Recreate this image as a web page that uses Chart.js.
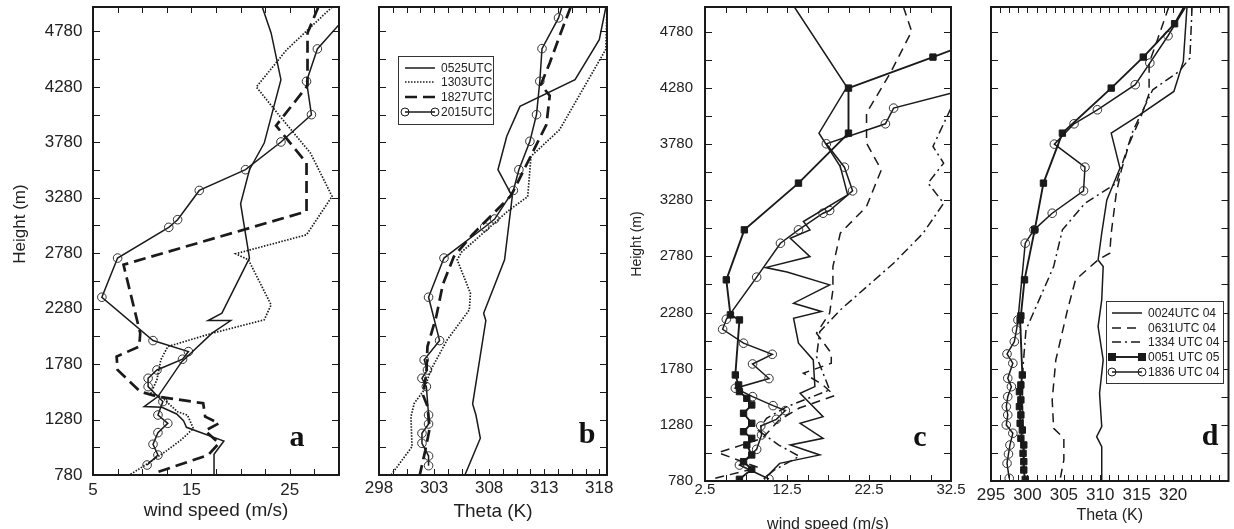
<!DOCTYPE html>
<html>
<head>
<meta charset="utf-8">
<script src="https://cdn.jsdelivr.net/npm/chart.js@4.4.0/dist/chart.umd.min.js"></script>
<style>
  html, body { margin: 0; padding: 0; background: #fff; width: 1234px; height: 529px; overflow: hidden; }
  canvas { position: absolute; top: 0; }
</style>
</head>
<body>
<canvas id="panelA" width="345" height="545" style="left:0"></canvas>
<canvas id="panelB" width="272" height="545" style="left:345px"></canvas>
<canvas id="panelC" width="360" height="545" style="left:613px"></canvas>
<canvas id="panelD" width="276" height="545" style="left:958px"></canvas>
<script>
// profiles: [value, height (m)]

// panel a - wind speed (m/s)
const aWind0525 = [[22.2,5000],[23.1,4766],[24.1,4345],[22.4,3773],[20.9,3533],[20.0,3226],[20.9,2736],[18.1,2239],[16.7,2173],[19.0,2173],[17.1,2059],[14.0,1800],[11.6,1487],[10.2,1397],[12.0,1390],[13.5,1330],[14.2,1270],[14.5,1210],[18.3,1086],[17.3,967],[17.3,780]];
const aWind1303 = [[29.3,5000],[24.7,4616],[21.6,4279],[24.0,4014],[27.1,3683],[29.3,3292],[26.7,2946],[19.5,2775],[20.8,2720],[23.1,2314],[22.4,2179],[17.1,2058],[12.6,1938],[11.9,1820],[11.5,1640],[10.9,1520],[12.0,1480],[13.6,1350],[14.6,1320],[15.2,1200],[14.0,1100],[12.5,1000],[10.5,880],[8.7,780]];
const aWind1827 = [[27.9,5000],[26.8,4766],[26.8,4291],[23.6,3930],[26.7,3593],[26.7,3157],[8.1,2676],[9.8,2058],[9.7,1938],[7.4,1848],[7.5,1727],[9.8,1532],[11.6,1487],[16.2,1427],[16.4,1306],[17.8,1246],[16.4,1180],[17.8,1066],[16.7,960],[11.2,795]];
const aWind2015 = [[30.0,4840],[27.8,4622],[26.7,4330],[27.2,4029],[24.1,3783],[20.5,3533],[15.8,3346],[13.6,3082],[12.7,3013],[7.5,2736],[5.9,2383],[11.1,1992],[14.7,1893],[14.1,1824],[11.5,1727],[10.6,1652],[10.6,1577],[12.1,1442],[11.6,1321],[12.6,1246],[11.6,1162],[11.1,1057],[11.6,960],[10.5,870]];

// panel b - theta (K)
const bTheta0525 = [[318.6,5000],[318.0,4706],[315.8,4345],[310.8,4104],[309.6,3834],[308.8,3533],[310.1,3292],[309.4,2720],[307.5,2239],[307.7,2173],[306.5,1420],[306.8,1321],[307.2,1111],[305.8,780]];
const bTheta1303 = [[318.7,5000],[318.6,4620],[314.4,3894],[311.8,3653],[311.5,3290],[309.7,3160],[305.5,2790],[305.1,2720],[306.3,2419],[306.2,2269],[304.2,2000],[302.7,1727],[302.1,1547],[301.2,1427],[300.9,1306],[301.0,1036],[299.1,780]];
const bTheta1827 = [[315.4,5000],[314.5,4766],[313.5,4495],[312.7,4300],[313.5,4200],[313.2,3940],[312.0,3700],[310.0,3300],[306.5,2950],[304.8,2750],[303.8,2500],[303.2,2209],[302.4,1938],[302.3,1700],[302.0,1500],[302.4,1400],[302.6,1200],[302.2,1000],[301.7,780]];
const bTheta2015 = [[314.6,5000],[314.3,4902],[312.8,4625],[312.6,4330],[312.3,4029],[311.7,3789],[310.7,3533],[310.2,3346],[308.5,3088],[307.6,3016],[303.9,2736],[302.5,2383],[303.5,1992],[302.1,1818],[302.4,1727],[301.9,1652],[302.3,1577],[302.5,1321],[302.5,1240],[301.9,1156],[301.9,1066],[302.5,951],[302.5,864]];

// panel c - wind speed (m/s)
const cWind0024 = [[13.4,5000],[19.8,4287],[16.4,3877],[19.0,3580],[19.9,3328],[14.5,3090],[15.3,3016],[12.9,2941],[15.3,2778],[9.9,2680],[12.5,2640],[17.7,2526],[13.3,2363],[16.7,2289],[13.3,2229],[13.9,2007],[15.7,1858],[15.9,1620],[14.1,1561],[16.9,1353],[14.1,1294],[16.9,1160],[12.9,1101],[16.5,1012],[11.6,937],[10.0,818]];
const cWind0631 = [[26.7,5000],[27.7,4783],[25.1,4412],[22.2,4055],[22.2,3788],[24.0,3550],[22.2,3224],[19.0,2986],[18.1,2689],[18.1,2482],[17.7,2274],[16.1,2096],[17.9,1917],[17.9,1828],[14.5,1740],[16.8,1640],[18.3,1540],[14.0,1430],[11.5,1320],[9.5,1160],[4.1,1032],[9.0,900],[3.5,800]];
const cWind1334 = [[32.5,4100],[30.3,3758],[31.6,3610],[29.7,3432],[31.6,3253],[29.1,2986],[25.5,2719],[19.0,2303],[16.5,2110],[16.1,1888],[17.7,1591],[12.5,1442],[10.0,1338],[9.0,1230],[11.5,1100],[14.0,1000],[11.0,880],[9.5,790]];
const cWind0051 = [[32.5,4614],[30.3,4554],[20.0,4278],[20.0,3877],[13.9,3432],[7.3,3016],[5.1,2571],[5.6,2259],[6.7,2214],[6.2,1724],[6.6,1635],[6.7,1576],[7.6,1516],[8.2,1457],[7.2,1383],[8.2,1294],[7.2,1219],[8.2,1160],[7.6,1101],[8.2,1012],[7.2,952],[8.2,884],[6.7,795]];
const cWind1836 = [[32.5,4233],[25.5,4100],[24.5,3960],[17.3,3782],[19.5,3574],[20.5,3363],[17.7,3188],[16.9,3164],[13.9,3016],[11.7,2897],[8.8,2595],[5.1,2220],[4.65,2131],[7.2,2007],[10.7,1908],[8.3,1822],[10.3,1692],[6.2,1606],[8.3,1531],[10.8,1451],[12.3,1407],[11.2,1329],[9.3,1270],[9.4,1190],[8.8,1062],[6.7,922],[10.3,798]];

// panel d - theta (K)
const dTheta0024 = [[321.9,5000],[321.4,4516],[320.1,4248],[315.4,4040],[311.5,3877],[312.7,3565],[310.9,3283],[310.2,2986],[309.7,2748],[310.4,2690],[310.2,2393],[309.7,2155],[310.4,1858],[309.9,1561],[310.2,1264],[309.5,1175],[310.2,1086],[310.2,789]];
const dTheta0631 = [[319.4,5000],[317.8,4700],[316.7,4500],[316.7,4230],[315.6,4025],[314.0,3788],[312.9,3550],[312.2,3343],[311.5,2986],[311.3,2808],[309.7,2749],[306.6,2571],[305.5,2303],[303.9,1858],[303.4,1502],[303.6,1249],[305.0,1160],[305.0,967],[304.5,800]];
const dTheta1334 = [[322.6,5000],[322.3,4545],[320.8,4426],[317.2,4263],[314.5,3900],[313.0,3600],[312.2,3430],[307.9,3253],[304.8,3016],[303.6,2689],[303.0,2600],[301.4,2363],[299.8,2125],[299.4,1800],[299.3,1500],[299.4,1200],[299.6,790]];
const dTheta0051 = [[321.5,5000],[320.2,4851],[315.9,4554],[311.5,4278],[304.8,3877],[302.2,3432],[301.0,3016],[299.6,2571],[299.1,2250],[299.0,2214],[299.3,1724],[299.1,1635],[298.9,1576],[299.1,1502],[298.9,1442],[299.1,1368],[299.0,1294],[299.3,1234],[299.1,1160],[299.5,1101],[299.4,1026],[299.5,952],[299.5,878],[299.7,795]];
const dTheta1836 = [[321.7,5000],[319.3,4744],[316.8,4501],[314.8,4308],[309.6,4085],[306.4,3960],[303.7,3779],[307.9,3574],[307.7,3363],[303.4,3164],[300.9,3016],[299.7,2897],[298.7,2214],[298.5,2125],[298.2,2021],[297.2,1911],[298.0,1828],[297.3,1695],[297.8,1620],[297.3,1531],[297.1,1442],[297.3,1368],[297.1,1279],[298.0,1205],[297.6,1100],[297.4,1020],[297.2,937],[297.5,804]];

// axis labels
const heightLabels = [780, 1280, 1780, 2280, 2780, 3280, 3780, 4280, 4780];
const windLabelsA = [5, 15, 25];
const thetaLabelsB = [298, 303, 308, 313, 318];
const windLabelsC = [2.5, 12.5, 22.5, 32.5];
const thetaLabelsD = [295, 300, 305, 310, 315, 320];

const INK = '#1a1a1a';
const SANS = '"Liberation Sans", Arial, Helvetica, sans-serif';

function steps(from, to, step) {
  const out = [];
  for (let v = from; v <= to + 1e-9; v += step) out.push(v);
  return out;
}

// line styles
const SOLID = {};
const DOTTED = { borderDash: [1.5, 1.5], borderWidth: 1.7 };
const THICK_DASH = { borderDash: [12, 6], borderWidth: 2.7 };
const DASH = { borderDash: [9, 6] };
const DASH_DOT = { borderDash: [9, 4, 2, 4] };
const CIRCLES = { marker: 'circle' };
const SQUARES = { marker: 'rect', borderWidth: 1.9 };

function series(label, pts, style, hideFirst) {
  const ds = Object.assign({
    label: label,
    data: pts.map(p => ({ x: p[0], y: p[1] })),
    showLine: true,
    borderColor: INK,
    borderWidth: 1.5,
    tension: 0,
    fill: false,
    pointRadius: 0,
    pointHoverRadius: 0
  }, style);
  if (ds.marker === 'circle') {
    ds.pointStyle = 'circle';
    ds.pointRadius = c => (hideFirst && c.dataIndex === 0) ? 0 : 4.3;
    ds.pointBorderColor = '#333';
    ds.pointBackgroundColor = 'rgba(0,0,0,0)';
    ds.pointBorderWidth = 1;
  } else if (ds.marker === 'rect') {
    ds.pointStyle = 'rect';
    ds.pointRadius = c => (hideFirst && c.dataIndex === 0) ? 0 : 4.5;
    ds.pointBorderColor = INK;
    ds.pointBackgroundColor = INK;
    ds.pointBorderWidth = 1;
  }
  return ds;
}

// frame, inward ticks, height title, panel letter and the boxed legend
const decor = {
  id: 'decor',
  afterDraw(chart, args, o) {
    const { ctx, chartArea: ca, scales } = chart;
    ctx.save();
    ctx.strokeStyle = INK;
    ctx.lineWidth = 1;
    ctx.setLineDash([]);
    ctx.beginPath();
    scales.x.ticks.forEach(t => {
      const px = Math.round(scales.x.getPixelForValue(t.value)) + 0.5;
      ctx.moveTo(px, ca.bottom); ctx.lineTo(px, ca.bottom - 6);
      ctx.moveTo(px, ca.top); ctx.lineTo(px, ca.top + 6);
    });
    scales.y.ticks.forEach(t => {
      const py = Math.round(scales.y.getPixelForValue(t.value)) + 0.5;
      ctx.moveTo(ca.left, py); ctx.lineTo(ca.left + 7, py);
      ctx.moveTo(ca.right, py); ctx.lineTo(ca.right - 7, py);
    });
    ctx.stroke();
    ctx.lineWidth = 2;
    ctx.strokeRect(ca.left, ca.top, ca.right - ca.left, ca.bottom - ca.top);

    if (o.yTitle) {
      ctx.save();
      ctx.translate(o.yTitleX, o.yTitleY);
      ctx.rotate(-Math.PI / 2);
      ctx.fillStyle = '#222';
      ctx.font = o.yTitleSize + 'px ' + SANS;
      ctx.textAlign = 'center';
      ctx.textBaseline = 'middle';
      ctx.fillText(o.yTitle, 0, 0);
      ctx.restore();
    }

    ctx.fillStyle = '#111';
    ctx.font = 'bold 30px "Liberation Serif", "Times New Roman", serif';
    ctx.textAlign = 'center';
    ctx.textBaseline = 'middle';
    ctx.fillText(o.letter, o.letterX, o.letterY);

    if (o.legend) {
      const lg = o.legend;
      ctx.fillStyle = '#fff';
      ctx.fillRect(lg.x0, lg.y0, lg.x1 - lg.x0, lg.y1 - lg.y0);
      ctx.lineWidth = 1;
      ctx.strokeStyle = '#333';
      ctx.strokeRect(lg.x0 + 0.5, lg.y0 + 0.5, lg.x1 - lg.x0, lg.y1 - lg.y0);
      ctx.font = '12px ' + SANS;
      ctx.textAlign = 'left';
      chart.data.datasets.forEach((ds, i) => {
        const y = lg.rows[i];
        ctx.strokeStyle = INK;
        ctx.lineWidth = ds.borderWidth;
        ctx.setLineDash(ds.borderDash || []);
        ctx.beginPath();
        ctx.moveTo(lg.sx0, y); ctx.lineTo(lg.sx1, y);
        ctx.stroke();
        ctx.setLineDash([]);
        ctx.lineWidth = 1;
        [lg.sx0, lg.sx1].forEach(mx => {
          if (ds.marker === 'circle') {
            ctx.beginPath(); ctx.arc(mx, y, 4, 0, Math.PI * 2); ctx.stroke();
          } else if (ds.marker === 'rect') {
            ctx.fillStyle = INK; ctx.fillRect(mx - 4, y - 4, 8, 8);
          }
        });
        ctx.fillStyle = '#222';
        ctx.fillText(ds.label, lg.tx, y + 0.5);
      });
    }
    ctx.restore();
  }
};

function makePanel(id, cfg) {
  const labelOf = list => v => list.some(l => Math.abs(l - v) < 1e-6) ? String(v) : '';
  return new Chart(document.getElementById(id), {
    type: 'scatter',
    data: { datasets: cfg.datasets },
    options: {
      responsive: false,
      animation: false,
      events: [],
      devicePixelRatio: 1,
      layout: { padding: { top: 7, right: cfg.padRight, left: 0, bottom: 0 } },
      plugins: {
        legend: { display: false },
        tooltip: { enabled: false },
        decor: {
          letter: cfg.letter, letterX: cfg.letterX, letterY: cfg.letterY, legend: cfg.legend,
          yTitle: cfg.yTitle, yTitleX: cfg.yTitleX, yTitleY: cfg.yTitleY, yTitleSize: cfg.yTitleSize
        }
      },
      scales: {
        x: {
          type: 'linear', min: cfg.xMin, max: cfg.xMax,
          afterFit: s => { s.height = cfg.xHeight; s.paddingLeft = 0; s.paddingRight = 0; },
          afterBuildTicks: s => { s.ticks = cfg.xTicks.map(v => ({ value: v })); },
          grid: { display: false, drawTicks: false },
          border: { display: false },
          ticks: {
            autoSkip: false, maxRotation: 0, padding: cfg.xPad, color: '#222',
            font: { family: SANS, size: cfg.xTickSize },
            callback: labelOf(cfg.xLabels)
          },
          title: {
            display: true, text: cfg.xTitle, color: '#222',
            font: { family: SANS, size: cfg.xTitleSize },
            padding: { top: cfg.xTitlePad, bottom: cfg.xTitlePad }
          }
        },
        y: {
          type: 'linear', min: 780, max: 5000,
          afterFit: s => { s.width = cfg.yWidth; s.paddingTop = 0; s.paddingBottom = 0; },
          afterBuildTicks: s => { s.ticks = steps(780, 5000, 250).map(v => ({ value: v })); },
          grid: { display: false, drawTicks: false },
          border: { display: false },
          ticks: {
            display: !!cfg.yTitle, autoSkip: false, padding: cfg.yPad, color: '#222',
            font: { family: SANS, size: cfg.yTickSize },
            callback: labelOf(heightLabels)
          }
        }
      }
    },
    plugins: [decor]
  });
}

makePanel('panelA', {
  datasets: [
    series('0525UTC', aWind0525, SOLID),
    series('1303UTC', aWind1303, DOTTED),
    series('1827UTC', aWind1827, THICK_DASH),
    series('2015UTC', aWind2015, CIRCLES, true)
  ],
  xMin: 5, xMax: 30, xTicks: steps(5, 30, 2.5), xLabels: windLabelsA,
  padRight: 6, yWidth: 93, xHeight: 70,
  xTickSize: 17, xPad: 5, xTitle: 'wind speed (m/s)', xTitleSize: 19, xTitlePad: 22.6,
  yTitle: 'Height (m)', yTickSize: 17, yPad: 10.5, yTitleSize: 17, yTitleX: 20, yTitleY: 224,
  letter: 'a', letterX: 297, letterY: 438
});

makePanel('panelB', {
  datasets: [
    series('0525UTC', bTheta0525, SOLID),
    series('1303UTC', bTheta1303, DOTTED),
    series('1827UTC', bTheta1827, THICK_DASH),
    series('2015UTC', bTheta2015, CIRCLES, true)
  ],
  xMin: 298, xMax: 318.7, xTicks: steps(298, 318.7, 1.25), xLabels: thetaLabelsB,
  padRight: 10, yWidth: 34, xHeight: 70,
  xTickSize: 17, xPad: 3, xTitle: 'Theta (K)', xTitleSize: 19, xTitlePad: 21.6,
  letter: 'b', letterX: 242, letterY: 435,
  legend: { x0: 53, y0: 56, x1: 148, y1: 124, rows: [68, 82, 97, 112], sx0: 60, sx1: 90, tx: 96 }
});

makePanel('panelC', {
  datasets: [
    series('0024UTC 04', cWind0024, SOLID),
    series('0631UTC 04', cWind0631, DASH),
    series('1334 UTC 04', cWind1334, DASH_DOT),
    series('0051 UTC 05', cWind0051, SQUARES, true),
    series('1836 UTC 04', cWind1836, CIRCLES, true)
  ],
  xMin: 2.5, xMax: 32.5, xTicks: steps(2.5, 32.5, 2.5), xLabels: windLabelsC,
  padRight: 22, yWidth: 92, xHeight: 64,
  xTickSize: 15, xPad: 0, xTitle: 'wind speed (m/s)', xTitleSize: 16, xTitlePad: 10.4,
  yTitle: 'Height (m)', yTickSize: 15, yPad: 12, yTitleSize: 14, yTitleX: 24, yTitleY: 244,
  letter: 'c', letterX: 307, letterY: 438
});

makePanel('panelD', {
  datasets: [
    series('0024UTC 04', dTheta0024, SOLID),
    series('0631UTC 04', dTheta0631, DASH),
    series('1334 UTC 04', dTheta1334, DASH_DOT),
    series('0051 UTC 05', dTheta0051, SQUARES, true),
    series('1836 UTC 04', dTheta1836, CIRCLES, true)
  ],
  xMin: 295, xMax: 327.6, xTicks: steps(295, 327.6, 1.25), xLabels: thetaLabelsD,
  padRight: 2, yWidth: 33, xHeight: 64,
  xTickSize: 17, xPad: 4, xTitle: 'Theta (K)', xTitleSize: 16, xTitlePad: 19.4,
  letter: 'd', letterX: 252, letterY: 437,
  legend: { x0: 148, y0: 301, x1: 265, y1: 383, rows: [313, 328, 342, 357, 372], sx0: 154, sx1: 184, tx: 190 }
});
</script>
</body>
</html>
